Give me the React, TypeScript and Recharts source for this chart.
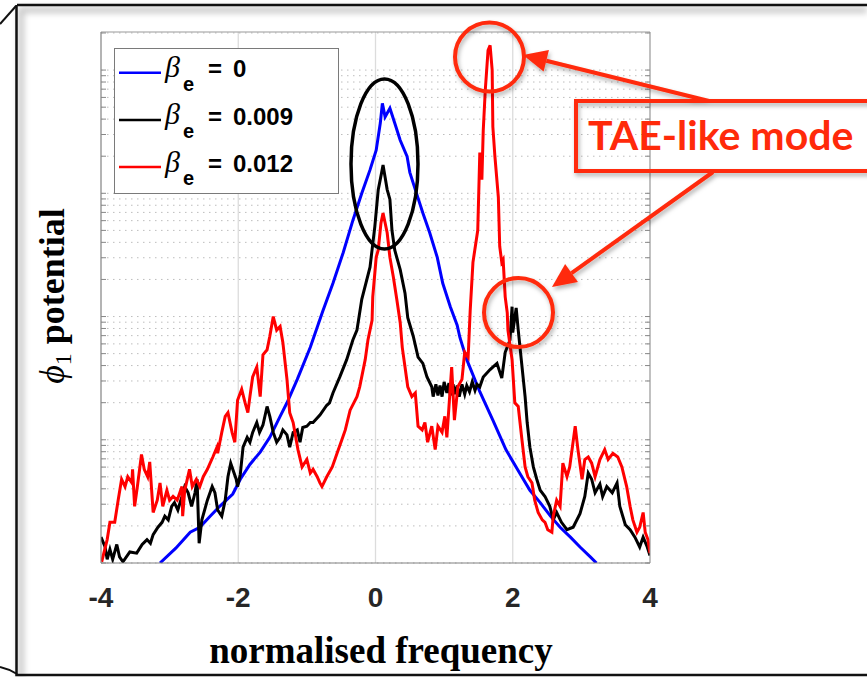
import React from "react"
import { LineChart, Line, XAxis, YAxis, CartesianGrid, Legend } from "recharts"

const W = 867
const H = 677

const xTicks = [-4, -2, 0, 2, 4]
// log axis, minor grid at 1..9 of every decade (no labels in the figure)
const yGridTicks = [
  1, 2, 3, 4, 5, 6, 7, 8, 9,
  10, 20, 30, 40, 50, 60, 70, 80, 90,
  100, 200, 300, 400, 500, 600, 700, 800, 900,
  1000, 2000, 3000, 4000, 5000, 6000, 7000, 8000, 9000,
  10000, 20000,
]
const yDomain: [number, number] = [1, 20370]

const betaValues = ["0", "0.009", "0.012"]
const lineColors = ["#0000ff", "#000000", "#ff0000"]

// [normalised frequency, log10 |phi_1|]
const beta0: [number, number][] = [
  [-3.14, 0.0], [-2.91, 0.12], [-2.7, 0.25], [-2.56, 0.29], [-2.41, 0.38], [-2.27, 0.46],
  [-2.08, 0.56], [-1.97, 0.68], [-1.83, 0.8], [-1.68, 0.9], [-1.54, 1.02], [-1.39, 1.19],
  [-1.29, 1.3], [-1.14, 1.49], [-0.95, 1.75], [-0.77, 2.04], [-0.62, 2.27], [-0.47, 2.52],
  [-0.33, 2.78], [-0.2, 3.0], [-0.08, 3.19], [0.01, 3.35], [0.07, 3.57], [0.1, 3.73],
  [0.14, 3.62], [0.21, 3.69], [0.28, 3.57], [0.36, 3.43], [0.46, 3.3], [0.5, 3.17],
  [0.58, 3.03], [0.69, 2.84], [0.79, 2.68], [0.9, 2.48], [0.98, 2.27], [1.09, 2.08],
  [1.19, 1.93], [1.23, 1.83], [1.33, 1.65], [1.52, 1.39], [1.71, 1.16], [1.9, 0.92],
  [2.1, 0.73], [2.25, 0.59], [2.4, 0.49], [2.55, 0.38], [2.69, 0.29], [2.84, 0.21],
  [2.98, 0.13], [3.13, 0.05], [3.22, 0.0],
]

const beta009: [number, number][] = [
  [-4.0, 0.21], [-3.94, 0.13], [-3.91, 0.03], [-3.87, 0.11], [-3.83, 0.03], [-3.77, 0.15],
  [-3.73, 0.05], [-3.68, 0.01], [-3.58, 0.09], [-3.48, 0.08], [-3.4, 0.15], [-3.33, 0.19],
  [-3.28, 0.16], [-3.24, 0.23], [-3.17, 0.29], [-3.11, 0.33], [-3.07, 0.38], [-3.02, 0.35],
  [-2.97, 0.46], [-2.93, 0.49], [-2.88, 0.43], [-2.82, 0.54], [-2.78, 0.62], [-2.73, 0.57],
  [-2.68, 0.46], [-2.63, 0.57], [-2.6, 0.68], [-2.57, 0.16], [-2.53, 0.35], [-2.45, 0.51],
  [-2.38, 0.62], [-2.34, 0.57], [-2.3, 0.43], [-2.24, 0.38], [-2.19, 0.51], [-2.15, 0.7],
  [-2.11, 0.81], [-2.08, 0.76], [-2.03, 0.68], [-2.01, 0.62], [-1.97, 0.72], [-1.93, 0.94],
  [-1.87, 1.02], [-1.83, 0.98], [-1.79, 1.06], [-1.73, 1.14], [-1.69, 1.06], [-1.64, 1.12],
  [-1.58, 1.27], [-1.54, 1.19], [-1.49, 1.06], [-1.44, 0.98], [-1.39, 1.02], [-1.35, 1.08],
  [-1.29, 1.04], [-1.25, 0.94], [-1.2, 1.06], [-1.14, 1.08], [-1.1, 0.98], [-1.06, 1.1],
  [-1.0, 1.11], [-0.95, 1.14], [-0.91, 1.14], [-0.81, 1.2], [-0.71, 1.28], [-0.67, 1.3],
  [-0.62, 1.38], [-0.52, 1.51], [-0.42, 1.65], [-0.33, 1.81], [-0.27, 1.89], [-0.2, 2.14],
  [-0.08, 2.4], [-0.01, 2.73], [0.04, 3.03], [0.09, 3.17], [0.11, 3.23], [0.14, 3.13],
  [0.17, 3.03], [0.21, 2.95], [0.24, 2.7], [0.28, 2.54], [0.36, 2.38], [0.43, 2.19],
  [0.47, 1.99], [0.55, 1.84], [0.62, 1.67], [0.69, 1.62], [0.75, 1.51], [0.82, 1.43],
  [0.84, 1.35], [0.88, 1.45], [0.91, 1.36], [0.94, 1.44], [0.97, 1.35], [1.0, 1.47],
  [1.04, 1.38], [1.07, 1.46], [1.09, 1.36], [1.13, 1.45], [1.16, 1.37], [1.19, 1.44],
  [1.22, 1.35], [1.26, 1.45], [1.3, 1.37], [1.33, 1.44], [1.37, 1.39], [1.41, 1.47],
  [1.45, 1.4], [1.48, 1.45], [1.52, 1.43], [1.57, 1.51], [1.67, 1.57], [1.77, 1.62],
  [1.84, 1.5], [1.89, 1.71], [1.96, 1.81],
  [1.99, 2.08], [2.0, 1.87], [2.05, 2.07], [2.08, 1.89], [2.13, 1.62], [2.18, 1.35],
  [2.21, 1.14], [2.25, 0.94], [2.3, 0.78], [2.35, 0.68], [2.4, 0.59], [2.47, 0.54],
  [2.54, 0.46], [2.59, 0.35], [2.64, 0.41], [2.71, 0.33], [2.79, 0.27], [2.88, 0.29],
  [2.98, 0.4], [3.05, 0.54], [3.1, 0.73], [3.15, 0.68], [3.2, 0.57], [3.27, 0.64],
  [3.31, 0.54], [3.37, 0.62], [3.45, 0.57], [3.52, 0.65], [3.56, 0.46], [3.64, 0.31],
  [3.71, 0.27], [3.78, 0.21], [3.85, 0.13], [3.9, 0.21], [3.96, 0.13], [4.0, 0.06],
]

const beta012: [number, number][] = [
  [-3.99, 0.01], [-3.91, 0.19], [-3.87, 0.33], [-3.8, 0.33], [-3.75, 0.51], [-3.7, 0.68],
  [-3.65, 0.62], [-3.61, 0.7], [-3.55, 0.65], [-3.54, 0.76], [-3.51, 0.46], [-3.47, 0.62],
  [-3.41, 0.88], [-3.37, 0.76], [-3.32, 0.7], [-3.29, 0.82], [-3.24, 0.41], [-3.18, 0.51],
  [-3.14, 0.65], [-3.1, 0.46], [-3.04, 0.59], [-3.0, 0.51], [-2.95, 0.54], [-2.89, 0.51],
  [-2.82, 0.62], [-2.81, 0.38], [-2.78, 0.59], [-2.71, 0.76], [-2.67, 0.62], [-2.61, 0.68],
  [-2.56, 0.62], [-2.51, 0.7], [-2.45, 0.76], [-2.41, 0.81], [-2.37, 0.86], [-2.31, 0.94],
  [-2.3, 0.89], [-2.24, 1.06], [-2.19, 1.19], [-2.15, 1.22], [-2.09, 1.06], [-2.05, 0.98],
  [-2.01, 1.32], [-1.95, 1.41], [-1.9, 1.3], [-1.86, 1.22], [-1.83, 1.35], [-1.79, 1.51],
  [-1.73, 1.59], [-1.68, 1.35], [-1.64, 1.69], [-1.58, 1.73], [-1.54, 1.84], [-1.49, 2.0],
  [-1.44, 1.89], [-1.39, 1.92], [-1.35, 1.79], [-1.29, 1.49], [-1.25, 1.22], [-1.2, 1.14],
  [-1.13, 0.92], [-1.07, 0.78], [-1.0, 0.84], [-0.95, 0.73], [-0.91, 0.76], [-0.85, 0.7],
  [-0.81, 0.65], [-0.78, 0.62], [-0.71, 0.7], [-0.63, 0.78], [-0.56, 0.89], [-0.49, 1.0],
  [-0.44, 1.08], [-0.37, 1.24], [-0.27, 1.35], [-0.23, 1.43], [-0.15, 1.65], [-0.11, 1.81],
  [-0.05, 1.97], [-0.04, 2.16], [0.01, 2.48], [0.04, 2.54], [0.08, 2.76], [0.11, 2.84],
  [0.17, 2.68], [0.21, 2.48], [0.26, 2.32], [0.31, 2.14], [0.36, 1.95], [0.39, 1.75],
  [0.43, 1.59], [0.47, 1.43], [0.53, 1.35], [0.58, 1.38], [0.62, 1.11], [0.68, 1.08],
  [0.72, 1.14], [0.76, 0.98], [0.82, 1.11], [0.87, 0.92], [0.91, 1.11], [0.97, 1.06],
  [1.01, 1.19], [1.04, 1.02], [1.11, 1.59], [1.15, 1.16], [1.2, 1.43], [1.26, 1.49],
  [1.3, 1.71], [1.35, 1.67], [1.38, 2.05], [1.42, 2.44], [1.49, 2.7], [1.52, 3.33],
  [1.55, 3.11], [1.57, 3.51], [1.6, 3.84], [1.62, 4.0], [1.64, 4.16], [1.67, 4.2],
  [1.7, 4.0], [1.71, 3.54], [1.74, 3.3], [1.79, 2.97], [1.81, 2.57], [1.84, 2.44],
  [1.86, 2.46], [1.89, 2.16], [1.92, 2.03], [1.93, 1.89], [1.99, 1.65], [2.03, 1.3],
  [2.08, 1.27], [2.13, 1.02], [2.18, 0.78], [2.22, 0.7], [2.28, 0.65], [2.32, 0.51],
  [2.37, 0.41], [2.43, 0.35], [2.47, 0.33], [2.51, 0.27], [2.57, 0.25], [2.59, 0.38],
  [2.64, 0.51], [2.69, 0.46], [2.73, 0.81], [2.79, 0.7], [2.83, 0.78], [2.91, 1.11],
  [2.95, 0.92], [3.01, 0.68], [3.05, 0.84], [3.1, 0.86], [3.15, 0.81], [3.2, 0.7],
  [3.27, 0.84], [3.34, 0.92], [3.39, 0.84], [3.46, 0.89], [3.53, 0.86], [3.59, 0.78],
  [3.66, 0.62], [3.71, 0.46], [3.75, 0.35], [3.81, 0.25], [3.85, 0.29], [3.9, 0.41],
  [3.93, 0.25], [3.97, 0.19], [4.0, 0.08],
]

const series = [beta0, beta009, beta012]

const toRows = (pts: [number, number][]) =>
  pts.map(([f, lg]) => ({ f, phi: Math.pow(10, lg) }))

const RED = "#ff2a0a"
const serif = "'Liberation Serif', 'Times New Roman', serif"
const sans = "'Liberation Sans', Arial, sans-serif"

function XTick({ x, y, payload }: any) {
  return (
    <text x={x} y={y + 44} textAnchor="middle" fontFamily={sans} fontWeight="bold" fontSize={28} fill="#262626">
      {payload.value}
    </text>
  )
}

const NoLabel = () => <g />

function LegendBox({ payload }: any) {
  const rows = payload ?? []
  return (
    <svg width={226} height={147} style={{ display: "block" }}>
      <rect x={0.5} y={0.5} width={224} height={145} fill="#fff" stroke="#7a7a7a" />
      {rows.map((entry: any, i: number) => {
        const cy = 24.7 + i * 47.2
        return (
          <g key={i}>
            <line x1={5} x2={47} y1={cy} y2={cy} stroke={entry.color} strokeWidth={2.5} />
            <text x={51} y={cy + 4.5} fontFamily={serif} fontStyle="italic" fontSize={30}>β</text>
            <text x={69} y={cy + 18} fontFamily={sans} fontWeight="bold" fontSize={20}>e</text>
            <text x={94} y={cy + 4.6} fontFamily={sans} fontWeight="bold" fontSize={24}>=</text>
            <text x={119} y={cy + 4.6} fontFamily={sans} fontWeight="bold" fontSize={24}>{entry.value}</text>
          </g>
        )
      })}
    </svg>
  )
}

function arrowHead(x1: number, y1: number, x2: number, y2: number, len = 24, half = 11) {
  const dx = x2 - x1
  const dy = y2 - y1
  const d = Math.hypot(dx, dy)
  const ux = dx / d
  const uy = dy / d
  const bx = x2 - ux * len
  const by = y2 - uy * len
  const pts = `${x2},${y2} ${bx - uy * half},${by + ux * half} ${bx + uy * half},${by - ux * half}`
  return { bx, by, pts }
}

function Annotations() {
  const a1 = arrowHead(709, 101, 523, 55)
  const a2 = arrowHead(713, 172, 552, 287)
  return (
    <svg width={W} height={H} style={{ position: "absolute", left: 0, top: 0, pointerEvents: "none" }}>
      <defs>
        <filter id="drop" x="-30%" y="-30%" width="160%" height="160%">
          <feDropShadow dx="1.5" dy="3" stdDeviation="2" floodColor="#000" floodOpacity="0.3" />
        </filter>
        <filter id="soft">
          <feGaussianBlur stdDeviation="3" />
        </filter>
      </defs>

      {/* slide frame */}
      <path d="M20 10 H867 M21 8 V677" stroke="#000" strokeOpacity={0.22} strokeWidth={6} fill="none" filter="url(#soft)" />
      <path d="M17 5 H867 M16.5 5 V675 H867" stroke="#111" strokeWidth={2.5} fill="none" />
      <path d="M0 24 L16 6" stroke="#111" strokeWidth={2} />
      <path d="M0 667 Q9 669 17 674" stroke="#111" strokeWidth={2} fill="none" />

      {/* axis labels */}
      <text transform="translate(64,296) rotate(-90)" textAnchor="middle" fontFamily={serif} fontWeight="bold" fontSize={36} fill="#000">
        <tspan fontStyle="italic" fontWeight="normal">ϕ</tspan>
        <tspan fontSize={24} fontWeight="normal" dy={7}>1</tspan>
        <tspan dy={-7}> potential</tspan>
      </text>
      <text x={381} y={663} textAnchor="middle" fontFamily={serif} fontWeight="bold" fontSize={37} fill="#000">
        normalised frequency
      </text>

      {/* callouts */}
      <ellipse cx={384.5} cy={164} rx={33.5} ry={85} stroke="#000" strokeWidth={3.5} fill="none" />
      <g filter="url(#drop)" stroke={RED} strokeWidth={4} fill="none">
        <circle cx={489.5} cy={57} r={34.5} />
        <circle cx={518.5} cy={312.5} r={34.5} />
        <rect x={576} y={101} width={320} height={70} />
        <line x1={709} y1={101} x2={a1.bx} y2={a1.by} />
        <line x1={713} y1={172} x2={a2.bx} y2={a2.by} />
        <polygon points={a1.pts} fill={RED} stroke="none" />
        <polygon points={a2.pts} fill={RED} stroke="none" />
      </g>
      <text x={588} y={150} fontFamily="Lato, 'Open Sans', sans-serif" fontWeight="bold" fontSize={41} fill={RED}>
        TAE-like mode
      </text>
    </svg>
  )
}

export default function App() {
  return (
    <div style={{ position: "absolute", left: 0, top: 0, width: W, height: H, background: "#fff" }}>
      <LineChart width={W} height={H} margin={{ top: 31, right: 217, bottom: 70, left: 101 }}>
        <CartesianGrid
          vertical={false}
          horizontalValues={yGridTicks}
          stroke="#bdbdbd"
          strokeDasharray="1.5 4.5"
        />
        <CartesianGrid horizontal={false} stroke="#dcdcdc" strokeWidth={1.3} />
        <XAxis
          dataKey="f"
          type="number"
          domain={[-4, 4]}
          ticks={xTicks}
          interval={0}
          allowDataOverflow
          height={44}
          tickLine={false}
          tickSize={0}
          tickMargin={0}
          axisLine={{ stroke: "#808080" }}
          tick={<XTick />}
        />
        <XAxis
          xAxisId="top"
          orientation="top"
          type="number"
          domain={[-4, 4]}
          ticks={xTicks}
          height={1}
          tick={false}
          tickLine={false}
          axisLine={{ stroke: "#999" }}
        />
        <YAxis
          scale="log"
          domain={yDomain}
          ticks={yGridTicks}
          interval={0}
          allowDataOverflow
          width={10}
          mirror
          tickSize={5}
          tick={<NoLabel />}
          tickLine={{ stroke: "#888" }}
          axisLine={{ stroke: "#808080" }}
        />
        <YAxis
          yAxisId="right"
          orientation="right"
          scale="log"
          domain={yDomain}
          ticks={yGridTicks}
          interval={0}
          allowDataOverflow
          width={10}
          mirror
          tickSize={5}
          tick={<NoLabel />}
          tickLine={{ stroke: "#888" }}
          axisLine={{ stroke: "#999" }}
        />
        <Legend
          layout="vertical"
          align="center"
          verticalAlign="middle"
          wrapperStyle={{ left: 114, top: 48, width: 226, height: 147 }}
          content={<LegendBox />}
        />
        {series.map((pts, i) => (
          <Line
            key={betaValues[i]}
            data={toRows(pts)}
            dataKey="phi"
            name={betaValues[i]}
            type="linear"
            stroke={lineColors[i]}
            strokeWidth={3}
            dot={false}
            activeDot={false}
            isAnimationActive={false}
          />
        ))}
      </LineChart>
      <Annotations />
    </div>
  )
}
